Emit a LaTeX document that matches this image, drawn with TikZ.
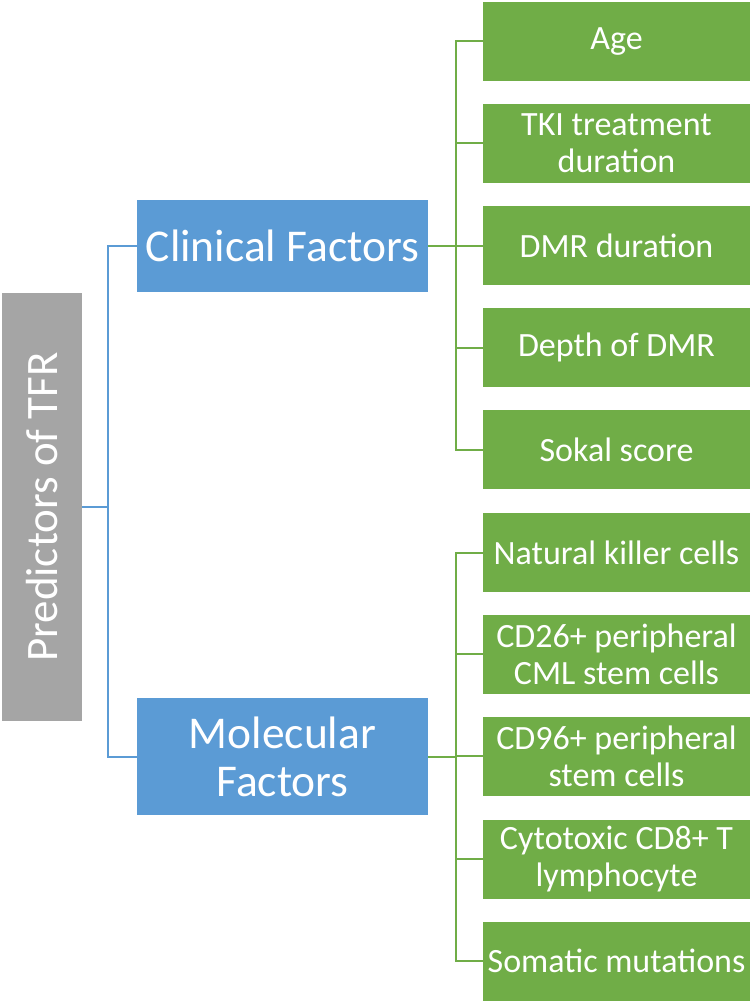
\documentclass[tikz,border=0pt]{standalone}
\usepackage{fontspec}
\setmainfont{Carlito}
\definecolor{boxblue}{HTML}{5B9BD5}
\definecolor{boxgreen}{HTML}{70AD47}
\definecolor{boxgray}{HTML}{A5A5A5}

\begin{document}
\begin{tikzpicture}[x=1pt, y=-1pt,
    root/.style={fill=boxgray, text=white, minimum width=428pt, minimum height=80pt, inner sep=0pt, rotate=90, font=\fontsize{45}{52}\selectfont},
    group/.style={fill=boxblue, text=white, minimum width=291pt, inner sep=0pt, align=center, font=\fontsize{45.5}{48}\selectfont},
    leaf/.style={fill=boxgreen, text=white, minimum width=267pt, minimum height=79pt, inner sep=0pt, align=center, font=\fontsize{34}{37}\selectfont},
    blueline/.style={draw=boxblue, line width=2pt},
    greenline/.style={draw=boxgreen, line width=2pt}]
            \useasboundingbox (0,0) rectangle (752,1003);

            \node[root] (tfr) at (42,507) {Predictors of TFR};

            \node[group, minimum height=92pt] (clin) at (282.5,246) {Clinical Factors};
            \node[group, minimum height=117pt] (mol) at (282.5,756.5) {Molecular\\Factors};

            % clinical factors
            \node[leaf] (age) at (616.5,41.5) {Age};
            \node[leaf] (tki) at (616.5,143.5) {TKI treatment\\duration};
            \node[leaf] (dmr) at (616.5,245.5) {DMR duration};
            \node[leaf] (depth) at (616.5,347.5) {Depth of DMR};
            \node[leaf] (sokal) at (616.5,449.5) {Sokal score};

            % molecular factors
            \node[leaf] (nk) at (616.5,552.5) {Natural killer cells};
            \node[leaf] (cd26) at (616.5,654) {CD26+ peripheral\\CML stem cells};
            \node[leaf] (cd96) at (616.5,756) {CD96+ peripheral\\stem cells};
            \node[leaf] (cd8) at (616.5,859) {Cytotoxic CD8+ T\\lymphocyte};
            \node[leaf] (soma) at (616.5,961) {Somatic mutations};

            \coordinate (bj) at (108,507);
            \coordinate (gc) at (456,246);
            \coordinate (gm) at (456,756.5);

            \draw[blueline] (tfr.south) -- (bj);
            \draw[blueline] (clin.west) -| (bj) |- (mol.west);

            \draw[greenline] (clin.east) -- (gc);
            \foreach \n in {age, tki, dmr, depth, sokal}
                \draw[greenline] (gc) |- (\n.west);

            \draw[greenline] (mol.east) -- (gm);
            \foreach \n in {nk, cd26, cd96, cd8, soma}
                \draw[greenline] (gm) |- (\n.west);
        \end{tikzpicture}
\end{document}
